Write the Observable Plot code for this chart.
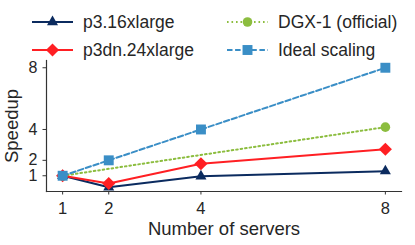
<!DOCTYPE html>
<html>
<head>
<meta charset="utf-8">
<script src="https://cdn.jsdelivr.net/npm/d3@7"></script>
<script src="https://cdn.jsdelivr.net/npm/@observablehq/plot@0.6"></script>
<style>
  html, body { margin: 0; padding: 0; background: #fff; }
  body { width: 415px; height: 245px; overflow: hidden; font-family: "Liberation Sans", Arial, sans-serif; }
  #legend { position: relative; width: 415px; height: 58px; }
  .item { position: absolute; display: flex; align-items: center; height: 24px; font-size: 17.5px; color: #262626; white-space: nowrap; }
  .item svg { margin-right: 10px; }
</style>
</head>
<body>
<div id="legend"></div>
<div id="chart"></div>
<script>
// ---- data ----
const servers = [1, 2, 4, 8];
const p316Speedup = [1, 0.25, 0.97, 1.3];
const p3dnSpeedup = [1, 0.5, 1.78, 2.72];
const dgxServers = [1, 8];
const dgxSpeedup = [1, 4.15];
const idealSpeedup = [1, 2, 4, 8];
const xTicks = [1, 2, 4, 8];
const yTicks = [1, 2, 4, 8];
const seriesNames = ["p3.16xlarge", "p3dn.24xlarge", "DGX-1 (official)", "Ideal scaling"];
const xLabel = "Number of servers";
const yLabel = "Speedup";

// ---- styles ----
const colors = ["#0b2b5f", "#ff1f23", "#8cbd3f", "#3a8ec6"];
const symbols = ["triangle", "diamond2", "circle", "square"];
const radii = [4.1, 5.9, 4.8, 5.6];
const dashes = [null, null, "1.6,2.9", "5.5,2.6"];

const series = [
  {name: seriesNames[0], xs: servers, ys: p316Speedup},
  {name: seriesNames[1], xs: servers, ys: p3dnSpeedup},
  {name: seriesNames[2], xs: dgxServers, ys: dgxSpeedup},
  {name: seriesNames[3], xs: servers, ys: idealSpeedup}
].map((s, i) => ({...s, data: s.xs.map((x, j) => ({x, y: s.ys[j]})), i}));

// ---- legend (HTML) ----
const d3sym = {triangle: d3.symbolTriangle, diamond2: d3.symbolDiamond2, circle: d3.symbolCircle, square: d3.symbolSquare};
const legend = d3.select("#legend");
const legendPos = [[32, 10], [32, 38], [227, 10], [227, 38]];
series.forEach((s, i) => {
  const item = legend.append("div").attr("class", "item")
    .style("left", legendPos[i][0] + "px").style("top", legendPos[i][1] + "px");
  const sw = item.append("svg").attr("width", 41).attr("height", 24);
  sw.append("line").attr("x1", 0).attr("x2", 41).attr("y1", 12).attr("y2", 12)
    .attr("stroke", colors[i]).attr("stroke-width", 2)
    .attr("stroke-dasharray", dashes[i]);
  sw.append("path").attr("transform", "translate(20.5,12)")
    .attr("d", d3.symbol(d3sym[symbols[i]], Math.PI * radii[i] * radii[i])())
    .attr("fill", colors[i]);
  item.append("span").text(s.name);
});

// ---- chart ----
const marks = [];
series.forEach((s) => {
  marks.push(Plot.line(s.data, {x: "x", y: "y", stroke: colors[s.i], strokeWidth: 2, strokeDasharray: dashes[s.i] ?? undefined}));
  marks.push(Plot.dot(s.data, {x: "x", y: "y", symbol: () => symbols[s.i], r: radii[s.i], fill: colors[s.i], stroke: "none"}));
});

const chart = Plot.plot({
  width: 415,
  height: 187,
  marginTop: 2,
  marginLeft: 46,
  marginRight: 14,
  marginBottom: 54,
  style: {fontFamily: "'Liberation Sans', Arial, sans-serif", color: "#262626", background: "#fff"},
  x: {domain: [0.65, 8.35]},
  y: {domain: [-0.02, 8.47]},
  symbol: {type: "identity"},
  marks: [
    Plot.frame({anchor: "left", stroke: "#333", strokeWidth: 1.2}),
    Plot.frame({anchor: "bottom", stroke: "#333", strokeWidth: 1.2}),
    Plot.axisX({ticks: xTicks, tickSize: 3.5, tickPadding: 7.4, fontSize: 16.5, stroke: "#333",
      label: null, tickFormat: d => String(d)}),
    Plot.axisX({ticks: [], fontSize: 18.5,
      label: xLabel, labelAnchor: "center", labelArrow: "none", labelOffset: 43}),
    Plot.axisY({ticks: yTicks, tickSize: 3.5, tickPadding: 5.5, fontSize: 16, stroke: "#333",
      label: null, tickFormat: d => String(d)}),
    Plot.axisY({ticks: [], fontSize: 18.5,
      label: yLabel, labelAnchor: "center", labelArrow: "none", labelOffset: 42}),
    ...marks
  ]
});
document.getElementById("chart").appendChild(chart);
</script>
</body>
</html>
